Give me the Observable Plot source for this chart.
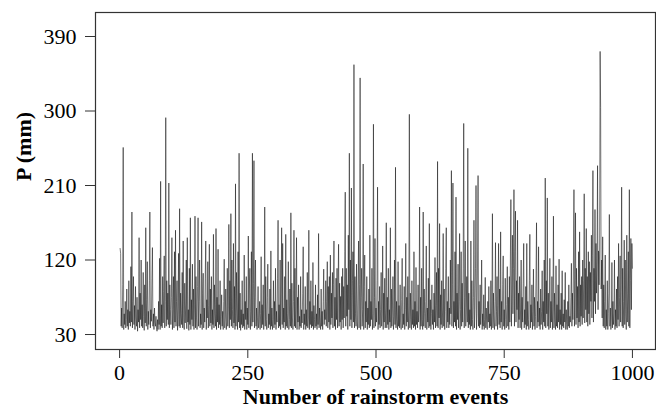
<!DOCTYPE html>
<html>
<head>
<meta charset="utf-8">
<script src="https://cdn.jsdelivr.net/npm/d3@7"></script>
<script src="https://cdn.jsdelivr.net/npm/@observablehq/plot@0.6"></script>
<style>
  html, body { margin: 0; padding: 0; background: #fff; }
</style>
</head>
<body>
<div id="chart"></div>
<script>
// Rainfall depth P (mm) for each rainstorm event (events 1..1000)
const rainfall = [
134,128,40,62,38,90,256,36,55,42,70,38,48,85,40,60,36,95,44,58,
40,112,45,178,38,70,100,42,65,36,88,50,40,75,34,60,45,147,38,80,
48,120,40,66,38,105,52,35,90,44,159,40,72,118,36,58,42,95,178,38,
60,46,98,135,40,55,36,62,45,40,52,38,34,48,36,70,42,122,36,215,
40,66,38,100,44,82,125,38,70,292,40,95,48,80,42,213,38,90,60,42,
75,147,36,60,100,38,130,45,156,40,70,95,35,62,128,40,182,38,80,55,
42,105,38,143,50,36,92,44,68,120,37,147,45,60,35,110,42,171,36,72,
48,115,40,85,36,62,173,38,100,50,36,88,171,40,70,120,38,55,42,166,
36,80,104,38,62,45,98,143,36,72,50,118,38,65,139,40,85,44,100,36,
60,42,151,38,90,55,40,158,36,75,45,133,38,66,42,95,36,52,78,40,
58,36,70,121,38,50,85,36,45,110,40,62,163,38,95,48,176,40,120,60,
38,140,44,88,36,212,40,105,62,36,130,45,249,38,80,35,60,42,95,38,
55,40,126,36,70,48,100,36,62,42,149,38,85,110,36,58,130,40,249,45,
92,240,38,75,120,40,62,36,50,88,38,45,70,36,55,124,38,66,42,90,
36,60,184,40,100,48,36,75,115,38,55,42,85,36,131,40,62,36,48,95,
38,70,42,110,36,58,45,98,168,38,66,40,120,36,80,159,42,140,38,62,
45,100,36,151,40,72,38,55,118,36,48,85,40,177,38,92,50,36,70,156,
40,110,38,62,147,36,75,45,90,36,52,40,100,38,60,44,80,136,36,55,
42,88,36,60,40,105,38,50,156,36,70,42,95,38,58,40,117,36,65,48,
38,90,40,55,36,78,42,152,38,62,45,36,85,40,58,36,70,109,42,60,
48,95,40,70,118,38,88,45,100,36,126,42,80,50,105,38,90,143,40,75,
36,98,48,110,38,85,139,40,92,45,76,36,100,48,110,38,88,50,130,202,
40,110,52,90,36,150,60,249,40,120,48,207,38,95,130,45,356,38,100,55,
40,115,45,36,85,143,38,90,340,36,75,110,40,60,236,36,88,126,38,70,
45,100,36,62,42,85,38,150,40,70,48,110,36,55,284,38,75,146,40,62,
45,95,208,36,70,42,88,38,60,105,40,55,137,36,80,45,98,38,62,165,
38,75,42,110,36,60,45,159,38,85,40,62,100,36,52,120,42,232,38,70,
48,36,118,40,65,38,90,45,36,72,122,38,55,42,88,36,60,140,40,75,
45,100,36,62,296,38,80,48,36,95,42,60,38,130,40,70,36,111,42,58,
38,90,45,60,184,36,75,40,110,48,36,178,40,85,55,38,70,137,36,62,
45,98,38,164,40,72,36,55,90,42,60,36,80,45,123,38,65,105,40,239,
38,110,50,164,36,78,42,95,38,62,152,40,85,36,58,110,159,38,70,45,
100,38,62,42,120,55,228,40,90,213,38,70,45,130,40,196,36,80,48,115,
38,70,152,36,60,130,40,92,45,110,285,38,75,143,40,62,100,45,255,38,
80,42,60,36,143,40,95,48,36,75,168,38,60,110,210,36,55,120,222,40,
70,38,90,42,60,120,36,55,40,78,36,48,99,38,62,42,36,70,45,88,
38,55,40,95,36,62,176,38,80,45,36,70,141,40,58,100,36,65,140,42,
85,38,154,45,70,36,90,125,40,60,36,98,48,38,66,112,40,75,36,100,
45,120,193,40,85,150,55,110,205,40,130,179,45,95,60,168,38,80,48,100,
38,62,120,36,75,45,92,140,38,60,42,88,36,140,40,70,48,36,95,151,
38,66,45,90,36,58,109,40,75,36,52,98,165,38,70,45,136,40,62,36,
85,42,58,107,36,70,45,120,40,219,38,95,55,195,40,80,36,62,122,38,
70,45,100,36,62,173,38,80,45,36,113,40,66,38,90,45,121,36,60,42,
80,36,107,40,55,38,72,45,105,36,60,42,36,70,40,90,38,52,45,75,
116,40,80,48,120,205,40,95,177,42,110,50,88,38,130,45,154,40,90,52,
100,42,120,50,95,200,44,110,60,158,45,100,40,130,55,118,42,105,70,150,
50,125,228,45,110,70,181,55,140,80,120,234,60,131,90,130,372,304,85,120,
50,148,40,90,38,70,126,36,60,40,95,36,55,80,175,40,62,36,50,117,
38,70,42,55,120,36,60,40,85,38,100,48,140,40,75,125,45,90,208,40,
110,38,70,144,42,120,55,36,150,45,80,130,40,205,38,95,146,60,140,110
];
const xTicks = [0, 250, 500, 750, 1000];
const yTicks = [30, 120, 210, 300, 390];
const xTitle = "Number of rainstorm events";
const yTitle = "P (mm)";

const data = rainfall.map((p, i) => ({event: i + 1, p}));

const chart = Plot.plot({
  width: 656,
  height: 410,
  marginLeft: 95,
  marginRight: 1,
  marginTop: 12,
  marginBottom: 61,
  style: {fontFamily: "'Liberation Serif', 'Times New Roman', serif", fontSize: "22px", background: "#fff", color: "#000"},
  x: {domain: [-47, 1045]},
  y: {domain: [11.9, 419]},
  marks: [
    Plot.line(data, {x: "event", y: "p", stroke: "#111", strokeWidth: 0.55}),
    Plot.frame({stroke: "#333", strokeWidth: 1.2}),
    Plot.axisX({ticks: xTicks, tickSize: 9, tickPadding: 6, tickFormat: d => String(d), label: null, fontSize: 22, stroke: "#333"}),
    Plot.axisY({ticks: yTicks, tickSize: 10, tickPadding: 9, tickFormat: d => String(d), label: null, fontSize: 22, stroke: "#333"}),
    Plot.text([xTitle], {text: d => d, frameAnchor: "bottom", lineAnchor: "middle", dy: 47, fontWeight: "bold", fontSize: 22, fill: "#000"}),
    Plot.text([yTitle], {text: d => d, frameAnchor: "left", lineAnchor: "middle", dx: -72, rotate: -90, fontWeight: "bold", fontSize: 22, fill: "#000"})
  ]
});
document.getElementById("chart").appendChild(chart);
</script>
</body>
</html>
